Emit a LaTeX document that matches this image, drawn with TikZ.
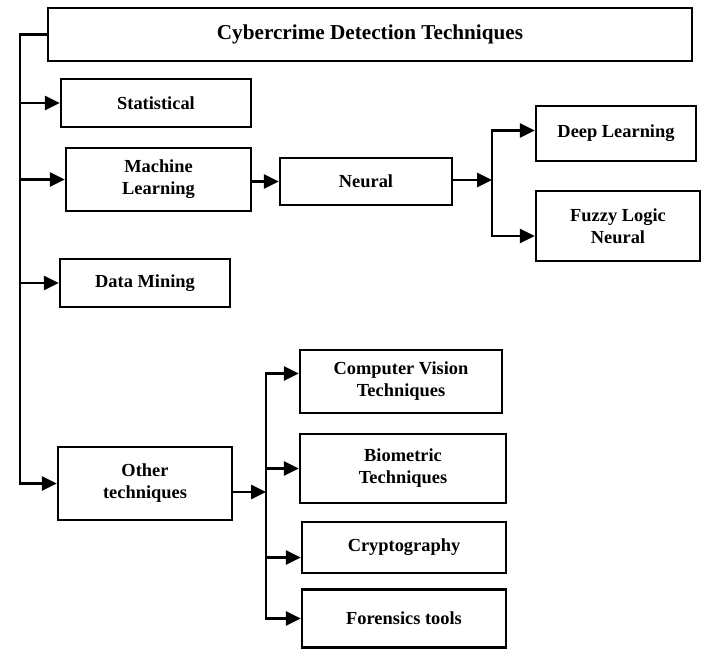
\documentclass[tikz,border=0pt]{standalone}
\usepackage{fontspec}
\setmainfont{Liberation Serif}
\usetikzlibrary{calc, positioning, arrows.meta}

\begin{document}
\begin{tikzpicture}[
            x=0.5pt, y=-0.5pt, % one unit = one pixel of the layout
            box_style/.style={rectangle, draw, line width=1.2pt, align=center, inner sep=2pt, font=\fontsize{9.2}{11}\selectfont\bfseries},
            title_style/.style={box_style, font=\fontsize{10.6}{12.5}\selectfont\bfseries},
            line_style/.style={line width=1.4pt, black},
            arrow_style/.style={line_style, -{Triangle[length=7.5pt, width=7pt]}}
        ]
        \useasboundingbox (0,0) rectangle (707,650);

        % Root
        \node[title_style, minimum width=322pt, minimum height=26.5pt] (title) at (370,34.5) {Cybercrime Detection Techniques};

        % First level (left column)
        \node[box_style, minimum width=95pt, minimum height=24pt]   (stat)  at (156,103)   {Statistical};
        \node[box_style, minimum width=92.5pt, minimum height=31.5pt] (ml)  at (158.5,179.5) {Machine\\Learning};
        \node[box_style, minimum width=85pt, minimum height=24pt]   (dm)    at (145,283)   {Data Mining};
        \node[box_style, minimum width=87pt, minimum height=36.5pt] (other) at (145,483.5) {Other\\techniques};

        % Machine learning branch
        \node[box_style, minimum width=86pt, minimum height=23.5pt] (neural) at (366,181.5) {Neural};
        \node[box_style, minimum width=80pt, minimum height=27.5pt] (deep)   at (616,133.5) {Deep Learning};
        \node[box_style, minimum width=82pt, minimum height=35pt]   (fuzzy)  at (618,226)   {Fuzzy Logic\\Neural};

        % Other techniques branch
        \node[box_style, minimum width=101pt, minimum height=31.5pt] (cv)    at (401,381.5) {Computer Vision\\Techniques};
        \node[box_style, minimum width=103pt, minimum height=34.5pt] (bio)   at (403,468.5) {Biometric\\Techniques};
        \node[box_style, minimum width=102pt, minimum height=25.5pt] (crypt) at (404,547.5) {Cryptography};
        \node[box_style, minimum width=102pt, minimum height=29pt]   (foren) at (404,618.5) {Forensics tools};

        % Split points
        \coordinate (trunk)  at (20,34.5);
        \coordinate (nsplit) at (492,180);
        \coordinate (osplit) at (266,492);

        % Edges
        % root to first level
        \draw[arrow_style] (title.west) -- (trunk) |- (other.west);
        \foreach \v in {stat, ml, dm} { \draw[arrow_style] (trunk |- \v.west) -- (\v.west); }

        % machine learning to neural, neural to its two kinds
        \draw[arrow_style] (ml.east |- neural.west) -- (neural.west);
        \draw[arrow_style] (neural.east |- nsplit) -- (nsplit);
        \draw[arrow_style] (nsplit) |- ([yshift=1.5pt]deep.west);
        \draw[arrow_style] (nsplit) |- ([yshift=-5pt]fuzzy.west);

        % other techniques to its four kinds
        \draw[arrow_style] (other.east |- osplit) -- (osplit);
        \draw[arrow_style] (osplit) |- ([yshift=4pt]cv.west);
        \draw[arrow_style] (osplit) |- (bio.west);
        \draw[arrow_style] (osplit) |- ([yshift=-5pt]crypt.west);
        \draw[arrow_style] (osplit) |- (foren.west);

    \end{tikzpicture}
\end{document}
